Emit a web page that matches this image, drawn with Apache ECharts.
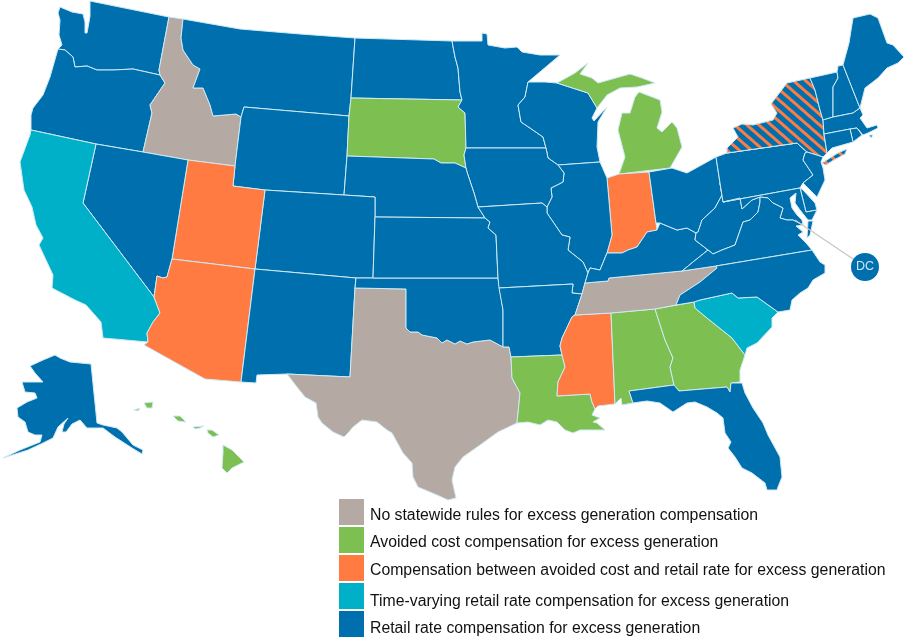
<!DOCTYPE html>
<html>
<head>
<meta charset="utf-8">
<style>html,body{margin:0;padding:0;background:#fff}#main{width:905px;height:642px}</style>
<script src="https://cdn.jsdelivr.net/npm/echarts@6/dist/echarts.min.js"></script>
</head>
<body>
<div id="main"></div>
<script>
// legend categories, top to bottom
var categories = [
  'No statewide rules for excess generation compensation',
  'Avoided cost compensation for excess generation',
  'Compensation between avoided cost and retail rate for excess generation',
  'Time-varying retail rate compensation for excess generation',
  'Retail rate compensation for excess generation'
]
var categoryColors = ['#b5a9a3', '#7dbf51', '#ff7b41', '#00b0c9', '#006fae']

// which states fall in which category
var noRules = ['ID', 'TX', 'TN']
var avoidedCost = ['SD', 'MI', 'LA', 'AL', 'GA', 'HI']
var between = ['UT', 'AZ', 'IN', 'MS']
var timeVarying = ['CA', 'SC']
var retailRate = ['WA', 'OR', 'MT', 'WY', 'ND', 'MN', 'WI', 'NE', 'IA', 'IL', 'CO', 'NV', 'NM', 'KS', 'MO', 'OK', 'AR', 'KY', 'OH', 'WV', 'VA', 'NC', 'PA', 'NJ', 'DE', 'MD', 'CT', 'RI', 'MA', 'VT', 'NH', 'ME', 'FL', 'AK', 'NY']
var hatched = ['NY'] // striped orange on blue

// state outlines, traced in picture pixels. Each state is a list of rings.
var outlines = {
  WA: [[[90,1],[169,17],[159,70],[160,75],[133,69],[113,70],[97,70],[87,66],[75,67],[73,57],[65,50],[58,49],[62,45],[59,35],[60,20],[58,13],[60,7],[72,12],[83,14],[85,22],[85,33],[87,33],[89,22],[90,16]]],
  OR: [[[58,49],[65,50],[73,57],[75,67],[87,66],[97,70],[113,70],[133,69],[160,75],[165,83],[150,105],[152,113],[143,152],[96,144],[31,130],[31,115],[33,108],[43,95],[50,77]]],
  ID: [[[169,17],[183,19],[181,38],[183,50],[193,65],[200,69],[193,88],[203,88],[210,105],[213,116],[236,114],[241,117],[235,166],[188,160],[143,152],[152,113],[150,105],[165,83],[160,75],[159,70]]],
  MT: [[[183,19],[240,29],[300,34],[355,38],[351,98],[349,116],[244,107],[241,117],[236,114],[213,116],[210,105],[203,88],[193,88],[200,69],[193,65],[183,50],[181,38]]],
  WY: [[[244,107],[349,116],[347,156],[344,195],[265,190],[233,186],[235,166],[241,117]]],
  ND: [[[355,38],[452,41],[455,57],[458,68],[460,92],[462,100],[351,98]]],
  SD: [[[351,98],[462,100],[458,107],[465,113],[466,148],[464,155],[466,168],[455,163],[441,163],[434,159],[347,156],[349,116]]],
  MN: [[[452,41],[482,41],[482,33],[487,34],[488,45],[505,48],[517,47],[522,52],[540,55],[560,55],[528,82],[525,97],[518,105],[521,122],[530,128],[543,137],[546,148],[466,148],[465,113],[458,107],[462,100],[460,92],[458,68],[455,57]]],
  WI: [[[528,82],[545,82],[557,83],[588,93],[597,108],[592,118],[594,121],[607,107],[598,122],[597,147],[600,162],[558,165],[548,158],[546,148],[543,137],[530,128],[521,122],[518,105],[525,97]]],
  MI: [[[557,83],[575,73],[588,63],[580,74],[592,78],[598,83],[630,74],[642,78],[655,83],[637,87],[620,88],[607,95],[597,108],[588,93]],
       [[639,92],[660,100],[662,112],[657,128],[662,132],[672,122],[677,128],[682,147],[670,168],[619,174],[625,157],[618,130],[622,113],[630,113],[635,97]]],
  IN: [[[607,178],[619,174],[649,172],[656,223],[657,230],[647,232],[637,247],[628,250],[622,253],[607,253],[612,235]]],
  IL: [[[600,162],[607,178],[612,235],[607,253],[600,270],[590,268],[588,273],[583,262],[568,250],[570,237],[562,235],[547,213],[547,207],[552,197],[551,188],[563,182],[564,173],[558,165]]],
  IA: [[[466,148],[546,148],[548,158],[558,165],[564,173],[563,182],[551,188],[552,197],[547,207],[542,203],[478,207],[474,193],[467,172],[466,168],[464,155]]],
  NE: [[[347,156],[434,159],[441,163],[455,163],[466,168],[467,172],[474,193],[478,207],[485,218],[375,217],[375,197],[344,195]]],
  CO: [[[265,190],[344,195],[375,197],[375,217],[373,278],[356,278],[255,269]]],
  UT: [[[188,160],[235,166],[233,186],[265,190],[255,269],[172,259]]],
  NV: [[[96,144],[143,152],[188,160],[172,259],[167,277],[163,278],[157,276],[154,297],[83,203]]],
  CA: [[[31,130],[96,144],[83,203],[154,297],[160,313],[153,322],[147,333],[148,342],[103,338],[101,322],[86,305],[75,300],[52,288],[53,275],[39,245],[43,238],[36,225],[32,207],[24,190],[20,162],[30,135]]],
  AZ: [[[172,259],[255,269],[241,382],[205,379],[144,345],[148,342],[147,333],[153,322],[160,313],[154,297],[157,276],[163,278],[167,277]]],
  NM: [[[255,269],[356,278],[355,288],[350,377],[287,374],[257,375],[256,383],[241,382]]],
  TX: [[[355,288],[406,289],[406,328],[410,332],[418,332],[422,335],[437,338],[442,343],[447,340],[455,344],[460,341],[467,344],[473,342],[490,340],[503,347],[509,347],[511,357],[512,378],[520,393],[518,413],[517,423],[498,432],[480,445],[463,457],[455,467],[452,480],[456,498],[448,500],[437,495],[418,487],[413,477],[412,463],[403,453],[392,433],[387,430],[377,422],[362,420],[353,427],[348,433],[344,437],[333,432],[322,423],[318,417],[316,403],[305,397],[297,387],[287,374],[350,377]]],
  OK: [[[356,278],[373,278],[498,278],[503,310],[503,347],[490,340],[473,342],[467,344],[460,341],[455,344],[447,340],[442,343],[437,338],[422,335],[418,332],[410,332],[406,328],[406,289],[355,288]]],
  KS: [[[375,217],[485,218],[490,222],[488,228],[496,235],[498,278],[373,278]]],
  MO: [[[478,207],[542,203],[547,207],[547,213],[562,235],[570,237],[568,250],[583,262],[588,273],[585,283],[582,294],[572,293],[573,284],[499,288],[498,278],[496,235],[488,228],[490,222],[485,218]]],
  AR: [[[499,288],[573,284],[572,293],[582,294],[575,315],[572,317],[562,338],[560,346],[562,355],[511,357],[509,347],[503,347],[503,310]]],
  LA: [[[511,357],[562,355],[565,367],[558,382],[557,396],[590,394],[592,402],[595,409],[592,415],[600,418],[593,422],[597,423],[605,430],[590,430],[580,430],[573,433],[565,430],[557,422],[548,420],[540,425],[528,422],[517,423],[518,413],[520,393],[512,378]]],
  MS: [[[572,317],[575,315],[611,313],[615,404],[598,406],[595,409],[592,402],[590,394],[557,396],[558,382],[565,367],[562,355],[560,346],[562,338]]],
  AL: [[[611,313],[655,309],[665,340],[673,358],[670,367],[674,385],[629,391],[633,403],[622,405],[621,398],[615,404]]],
  GA: [[[655,309],[694,302],[695,308],[707,318],[732,338],[745,355],[740,370],[740,382],[731,383],[730,392],[727,387],[679,391],[674,385],[670,367],[673,358],[665,340]]],
  FL: [[[629,391],[674,385],[679,391],[727,387],[730,392],[731,383],[742,383],[745,393],[753,408],[763,423],[768,435],[780,457],[782,477],[778,487],[777,490],[767,490],[765,483],[752,473],[742,468],[735,457],[728,448],[731,442],[725,433],[723,418],[717,413],[707,407],[695,402],[687,403],[673,412],[660,403],[647,401],[633,403]]],
  SC: [[[694,302],[700,300],[732,293],[738,298],[757,297],[778,312],[772,318],[772,327],[757,343],[747,348],[745,355],[732,338],[707,318],[695,308]]],
  TN: [[[585,283],[608,281],[609,278],[682,271],[716,266],[717,268],[700,282],[680,295],[676,305],[655,309],[611,313],[575,315],[582,294]]],
  KY: [[[607,253],[622,253],[628,250],[637,247],[647,232],[657,230],[660,223],[677,230],[687,228],[696,233],[695,240],[708,250],[693,262],[682,271],[609,278],[608,281],[585,283],[588,273],[590,268],[600,270]]],
  OH: [[[649,172],[672,168],[687,173],[716,157],[720,183],[722,195],[715,208],[702,220],[698,232],[696,233],[687,228],[677,230],[660,223],[656,223]]],
  WV: [[[720,183],[723,202],[740,198],[742,209],[752,200],[760,197],[760,202],[758,212],[750,220],[743,222],[735,245],[722,250],[713,254],[708,250],[695,240],[696,233],[698,232],[702,220],[715,208],[722,195]]],
  PA: [[[716,157],[727,153],[797,143],[807,152],[805,153],[803,160],[813,175],[803,183],[800,188],[723,202],[720,183]]],
  NY: [[[727,153],[727,148],[738,137],[733,128],[742,124],[753,125],[773,120],[777,113],[771,104],[787,83],[810,78],[815,90],[820,110],[823,120],[824,135],[827,153],[823,157],[807,152],[797,143]],
       [[822,163],[838,153],[847,149],[845,154],[832,161],[826,165]]],
  NJ: [[[805,153],[807,152],[823,157],[821,162],[823,168],[825,180],[817,197],[803,183],[813,175],[803,160]]],
  DE: [[[800,188],[803,190],[815,203],[817,210],[806,212]]],
  MD: [[[723,202],[800,188],[806,212],[817,210],[812,220],[808,220],[800,210],[795,203],[796,193],[790,198],[792,208],[797,215],[802,220],[803,225],[793,220],[787,220],[780,218],[783,208],[773,203],[768,198],[760,197],[752,200],[742,209],[740,198]]],
  VA: [[[682,271],[693,262],[708,250],[713,254],[722,250],[735,245],[743,222],[750,220],[758,212],[760,202],[760,197],[768,198],[773,203],[783,208],[780,218],[787,220],[793,220],[803,225],[796,226],[803,232],[798,235],[806,243],[812,250],[716,266]],
       [[808,221],[813,221],[810,235],[807,238]]],
  NC: [[[716,266],[812,250],[820,262],[825,265],[825,273],[813,280],[808,288],[800,293],[792,300],[790,310],[778,312],[757,297],[738,298],[732,293],[700,300],[694,302],[676,305],[680,295],[700,282],[717,268]]],
  VT: [[[810,78],[837,72],[838,78],[833,87],[833,117],[823,120],[820,110],[815,90]]],
  NH: [[[838,66],[843,65],[860,108],[853,113],[833,117],[833,87],[838,78],[837,72]]],
  ME: [[[843,65],[849,43],[853,18],[870,14],[878,18],[887,43],[893,45],[904,57],[898,63],[887,68],[878,78],[865,88],[860,108]]],
  MA: [[[823,120],[833,117],[853,113],[860,108],[863,115],[860,118],[867,128],[877,125],[878,128],[868,133],[863,135],[857,128],[850,129],[824,134]],
       [[869,135],[873,135],[871,138]]],
  RI: [[[850,129],[857,128],[862,135],[853,142]]],
  CT: [[[824,134],[850,129],[853,142],[832,148],[827,153]]],
  AK: [[[91,364],[97,423],[103,425],[117,428],[122,432],[133,445],[143,450],[142,454],[132,448],[115,437],[103,428],[87,428],[80,420],[72,424],[66,432],[62,432],[64,424],[68,418],[58,427],[53,438],[43,443],[28,450],[3,458],[20,450],[40,442],[42,435],[35,435],[28,432],[25,422],[18,417],[17,408],[27,402],[37,398],[35,393],[25,392],[22,382],[32,382],[43,382],[35,373],[30,366],[43,360],[55,355],[60,358],[70,362]]],
  HI: [[[223,445],[232,450],[244,462],[232,468],[227,473],[222,468],[223,453]],
       [[207,430],[212,430],[219,435],[213,437],[208,433]],
       [[193,427],[204,426],[200,428],[195,429]],
       [[173,416],[180,416],[186,422],[178,421]],
       [[144,403],[153,402],[152,408],[147,408]],
       [[134,410],[140,408],[138,411]]]
}

// DC call-out, in the same picture pixels
var dcMarker = [865, 267]
var dcLeaderFrom = [795, 220]

// legend text rows sit a little unevenly in the original
var legendTextX = 370
var legendTextY = [516, 543, 571, 602, 629]

var features = []
for (var name in outlines) {
  features.push({
    type: 'Feature',
    properties: { name: name },
    geometry: {
      type: 'MultiPolygon',
      coordinates: outlines[name].map(function (ring) {
        return [ring.concat([ring[0]])]
      })
    }
  })
}
echarts.registerMap('us', { geoJSON: { type: 'FeatureCollection', features: features } })

var groups = [noRules, avoidedCost, between, timeVarying, retailRate]
var mapData = []
groups.forEach(function (states, i) {
  states.forEach(function (s) {
    var item = { name: s, value: i }
    if (hatched.indexOf(s) >= 0) {
      item.itemStyle = {
        decal: {
          symbol: 'rect',
          symbolSize: 1,
          color: categoryColors[2],
          backgroundColor: categoryColors[4],
          dashArrayX: [1, 0],
          dashArrayY: [2.5, 4.5],
          rotation: 0.72
        }
      }
    }
    mapData.push(item)
  })
})

var identity = {
  project: function (p) { return p },
  unproject: function (p) { return p }
}
var box = [[0, 0], [905, 642]]

var myChart = echarts.init(document.getElementById('main'), null, { renderer: 'canvas' })
myChart.setOption({
  animation: false,
  backgroundColor: '#fff',
  textStyle: { fontFamily: 'Liberation Sans' },
  visualMap: {
    type: 'piecewise',
    dimension: 0,
    seriesIndex: 0,
    left: 324,
    top: 484,
    orient: 'vertical',
    inverse: true,
    itemWidth: 25,
    itemHeight: 26,
    itemGap: 2,
    itemSymbol: 'rect',
    showLabel: false,
    selectedMode: false,
    formatter: function () { return '' },
    pieces: categories.map(function (c, i) {
      return { value: i, label: c, color: categoryColors[i] }
    })
  },
  graphic: categories.map(function (c, i) {
    return {
      type: 'text',
      x: legendTextX,
      y: legendTextY[i],
      silent: true,
      style: {
        text: c,
        fill: '#111',
        font: '15.8px "Liberation Sans"',
        verticalAlign: 'middle'
      }
    }
  }),
  geo: {
    map: 'us',
    projection: identity,
    boundingCoords: box,
    left: 0,
    top: 0,
    width: 905,
    height: 642,
    roam: false,
    silent: true,
    label: { show: false },
    itemStyle: { areaColor: 'rgba(0,0,0,0)', borderWidth: 0 }
  },
  series: [
    {
      type: 'map',
      map: 'us',
      projection: identity,
      boundingCoords: box,
      left: 0,
      top: 0,
      width: 905,
      height: 642,
      silent: true,
      roam: false,
      label: { show: false },
      itemStyle: { borderColor: '#cfeaf3', borderWidth: 1 },
      data: mapData
    },
    {
      type: 'lines',
      coordinateSystem: 'geo',
      silent: true,
      z: 3,
      lineStyle: { color: '#c9c6c2', width: 1.2, opacity: 1, curveness: 0 },
      data: [{ coords: [dcLeaderFrom, dcMarker] }]
    },
    {
      type: 'scatter',
      coordinateSystem: 'geo',
      silent: true,
      z: 4,
      symbol: 'circle',
      symbolSize: 28,
      itemStyle: { color: categoryColors[4], opacity: 1 },
      label: { show: true, position: 'inside', formatter: 'DC', color: '#cfe6f2', fontSize: 12.5 },
      data: [{ value: dcMarker }]
    }
  ]
})
</script>
</body>
</html>
